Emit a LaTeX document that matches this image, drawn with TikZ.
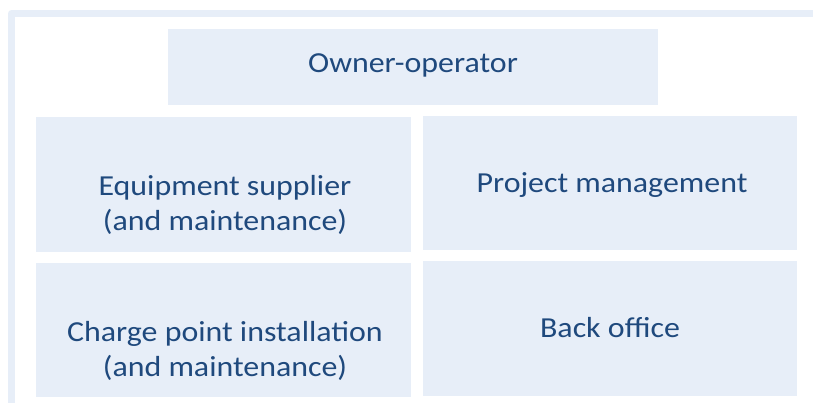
\documentclass[tikz,border=0pt]{standalone}
\usepackage{fontspec}
\setmainfont{Carlito}[FakeStretch=1.1]
\definecolor{cellblue}{HTML}{E7EEF8}
\definecolor{inkblue}{HTML}{1F497D}

\begin{document}
\begin{tikzpicture}[x=1pt, y=-1pt,
    cell/.style={fill=cellblue, inner sep=0pt},
    celltext/.style={text=inkblue, align=center, inner sep=0pt,
      font=\fontsize{29}{35}\selectfont}]
  \useasboundingbox (0,0) rectangle (813,403);

  \draw[cellblue, line width=7pt, line join=round] (11.5,403) -- (11.5,13.5) -- (813,13.5);

  \node[cell, minimum width=490pt, minimum height=76pt] (owner) at (413,67) {};
  \node[cell, minimum width=375pt, minimum height=135pt] (supplier) at (223.5,184.5) {};
  \node[cell, minimum width=374pt, minimum height=134pt] (project) at (610,183) {};
  \node[cell, minimum width=375pt, minimum height=134pt] (install) at (223.5,330) {};
  \node[cell, minimum width=374pt, minimum height=135pt] (backoffice) at (610,328.5) {};

  \node[celltext, anchor=base] (owner text) at (413,73) {Owner-operator};
  \node[celltext] (supplier text) at (225,204.5) {Equipment supplier\\(and maintenance)};
  \node[celltext, anchor=base] (project text) at (612,193) {Project management};
  \node[celltext] (install text) at (225,351) {Charge point installation\\(and maintenance)};
  \node[celltext, anchor=base] (backoffice text) at (610,337) {Back office};
\end{tikzpicture}
\end{document}
